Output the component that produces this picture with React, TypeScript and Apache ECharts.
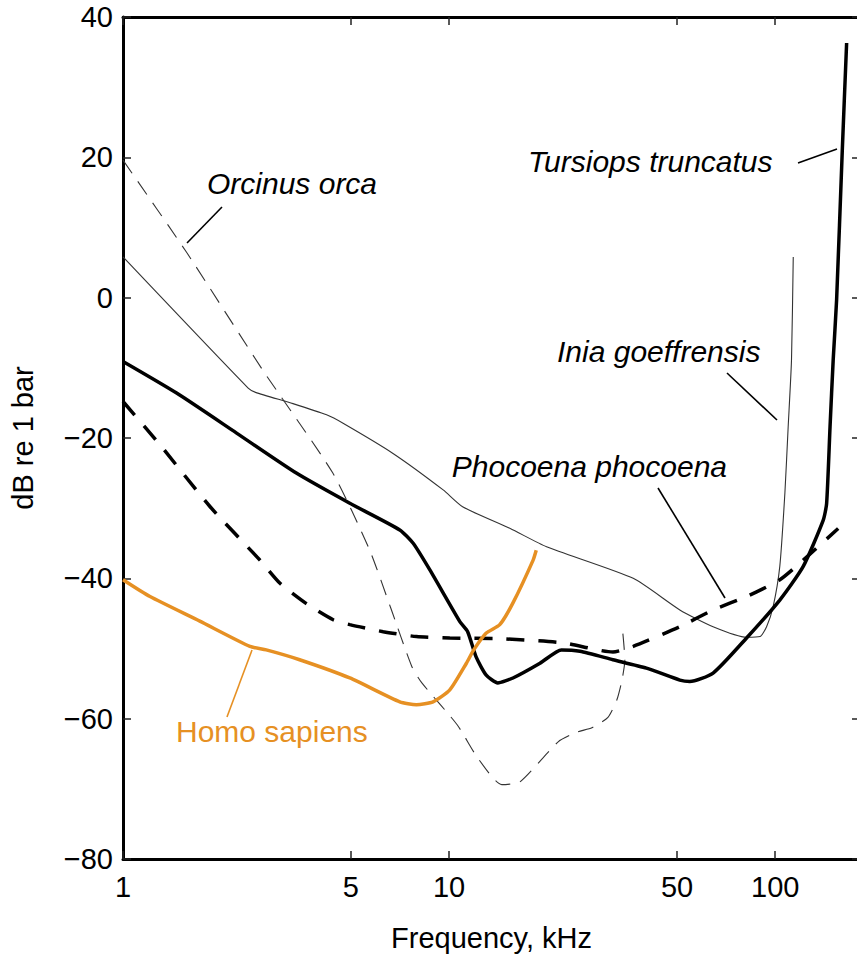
import React, { useEffect, useRef } from "react";
import * as echarts from "echarts";

const FONT = '"Liberation Sans", Arial, Helvetica, sans-serif';
const ORANGE = "#E69023";

// Axis ticks
const xTickValues = [1, 5, 10, 50, 100];
const X_MIN = 1;
const X_MAX = 182;
const Y_MIN = -80;
const Y_MAX = 40;
const Y_STEP = 20;

// Orcinus orca (thin dashed)
const orcaFreq = [1, 1.57, 2.68, 4.4, 5.71, 6.62, 7.69, 8.25, 10.6, 12.2, 14.5, 16.5, 21.6, 24.7, 27.4, 30.7, 32.7, 33.9, 34.6, 34.1];
const orcaDb = [19.6, 6.4, -10.3, -25.0, -36.0, -44.2, -52.6, -54.9, -60.9, -65.5, -69.4, -69.0, -63.3, -61.9, -61.3, -59.8, -57.3, -54.5, -51.6, -47.8];

// Inia goeffrensis (thin solid)
const iniaFreq = [1, 2.42, 2.55, 3.32, 4.21, 4.73, 6.73, 9.59, 11.0, 15.4, 19.9, 36.7, 51.0, 64.5, 81.7, 89.8, 94.1, 98.6, 103.3, 107.1, 109.6, 112.2, 113.6];
const iniaDb = [5.8, -12.9, -13.5, -15.1, -16.7, -17.9, -22.2, -27.4, -29.8, -32.9, -35.5, -40.0, -44.5, -46.9, -48.4, -48.3, -46.9, -44.0, -38.3, -27.8, -18.4, -8.9, 5.8];

// Tursiops truncatus (thick solid)
const tursiopsFreq = [1, 1.46, 2.23, 3.4, 4.96, 7.06, 7.76, 8.73, 10.8, 11.4, 12.1, 13.0, 14.1, 15.7, 19.0, 22.1, 25.2, 31.8, 40.3, 51.0, 54.7, 64.5, 81.7, 103.3, 121.9, 140.4, 143.8, 147.3, 150.6, 154.3, 160.6, 165.6];
const tursiopsDb = [-9.1, -13.6, -19.3, -25.0, -29.3, -33.1, -35.0, -38.8, -46.2, -47.6, -51.2, -53.8, -54.9, -54.2, -52.1, -50.2, -50.4, -51.6, -52.8, -54.5, -54.7, -53.5, -48.5, -43.1, -38.3, -31.7, -29.3, -18.4, -8.9, -0.3, 21.0, 36.3];

// Phocoena phocoena (thick dashed)
const phocoenaFreq = [1, 1.3, 1.85, 2.63, 3.03, 3.65, 4.41, 4.96, 6.28, 7.94, 10.05, 14.3, 22.4, 31.8, 36.7, 51.0, 64.5, 81.7, 103.3, 121.9, 156.0];
const phocoenaDb = [-14.8, -21.0, -29.8, -37.4, -40.7, -43.6, -45.9, -46.6, -47.6, -48.3, -48.5, -48.6, -49.2, -50.5, -49.7, -46.9, -44.5, -42.6, -40.2, -37.4, -32.9];

// Homo sapiens (orange)
const homoFreq = [1, 1.21, 1.72, 2.45, 2.75, 3.48, 4.96, 7.06, 7.94, 8.93, 10.05, 11.3, 11.9, 13.0, 14.3, 15.7, 18.1, 18.5];
const homoDb = [-40.2, -42.6, -46.1, -49.7, -50.2, -51.6, -54.2, -57.6, -58.0, -57.6, -55.9, -52.1, -50.2, -47.8, -46.6, -43.5, -37.4, -36.0];

const pairs = (xs: number[], ys: number[]) => xs.map((x, i) => [x, ys[i]]);

export default function App() {
  const ref = useRef<HTMLDivElement>(null);

  useEffect(() => {
    if (!ref.current) return;
    const chart = echarts.init(ref.current, null, { renderer: "svg" });
    const logTicks = xTickValues.map((v) => Math.log10(v));
    const tickStyle = { color: "#222", width: 1.5 };
    const axisLineStyle = { color: "#000", width: 3 };
    const labelStyle = { color: "#000", fontSize: 29, fontFamily: FONT };

    const textEl = (text: string, x: number, y: number, color = "#000", italic = true, align = "left") => ({
      type: "text",
      x,
      y,
      silent: true,
      style: {
        text,
        fill: color,
        fontSize: 30,
        fontFamily: FONT,
        fontStyle: italic ? "italic" : "normal",
        align,
        verticalAlign: "middle",
      },
    });
    const lineEl = (x1: number, y1: number, x2: number, y2: number, color = "#000") => ({
      type: "line",
      silent: true,
      shape: { x1, y1, x2, y2 },
      style: { stroke: color, lineWidth: 1.6 },
    });

    chart.setOption({
      animation: false,
      backgroundColor: "#fff",
      grid: { left: 123, right: 10, top: 17, bottom: 97, outerBoundsMode: "none" },
      xAxis: [
        {
          type: "log",
          logBase: 10,
          min: X_MIN,
          max: X_MAX,
          position: "bottom",
          axisLine: { show: true, onZero: false, lineStyle: axisLineStyle },
          axisTick: { show: false },
          axisLabel: { show: false },
          splitLine: { show: false },
          minorTick: { show: false },
          name: "Frequency, kHz",
          nameLocation: "middle",
          nameGap: 64,
          nameTextStyle: labelStyle,
        },
        {
          type: "value",
          min: Math.log10(X_MIN),
          max: Math.log10(X_MAX),
          position: "bottom",
          axisLine: { show: false, onZero: false },
          axisTick: { show: true, inside: true, length: 8, customValues: logTicks, lineStyle: tickStyle },
          axisLabel: {
            show: true,
            customValues: logTicks,
            margin: 13,
            formatter: (v: number) => String(Math.round(Math.pow(10, v))),
            ...labelStyle,
          },
          splitLine: { show: false },
        },
        {
          type: "value",
          min: Math.log10(X_MIN),
          max: Math.log10(X_MAX),
          position: "top",
          axisLine: { show: true, onZero: false, lineStyle: axisLineStyle },
          axisTick: { show: true, inside: true, length: 8, customValues: logTicks, lineStyle: tickStyle },
          axisLabel: { show: false },
          splitLine: { show: false },
        },
      ],
      yAxis: [
        {
          type: "value",
          min: Y_MIN,
          max: Y_MAX,
          interval: Y_STEP,
          position: "left",
          axisLine: { show: true, onZero: false, lineStyle: axisLineStyle },
          axisTick: { show: true, inside: true, length: 8, lineStyle: tickStyle },
          axisLabel: {
            show: true,
            margin: 10,
            formatter: (v: number) => (v < 0 ? "\u2212" + Math.abs(v) : String(v)),
            ...labelStyle,
          },
          splitLine: { show: false },
          name: "dB re 1 bar",
          nameLocation: "middle",
          nameGap: 86,
          nameTextStyle: labelStyle,
        },
        {
          type: "value",
          min: Y_MIN,
          max: Y_MAX,
          interval: Y_STEP,
          position: "right",
          axisLine: { show: true, onZero: false, lineStyle: axisLineStyle },
          axisTick: { show: true, inside: true, length: 8, lineStyle: tickStyle },
          axisLabel: { show: false },
          splitLine: { show: false },
        },
      ],
      series: [
        {
          name: "Orcinus orca",
          type: "line",
          xAxisIndex: 0,
          yAxisIndex: 0,
          data: pairs(orcaFreq, orcaDb),
          smooth: 0.2,
          showSymbol: false,
          lineStyle: { color: "#333", width: 1.1, type: [16, 10] },
          z: 2,
        },
        {
          name: "Inia goeffrensis",
          type: "line",
          xAxisIndex: 0,
          yAxisIndex: 0,
          data: pairs(iniaFreq, iniaDb),
          smooth: 0.2,
          showSymbol: false,
          lineStyle: { color: "#333", width: 1.1 },
          z: 2,
        },
        {
          name: "Phocoena phocoena",
          type: "line",
          xAxisIndex: 0,
          yAxisIndex: 0,
          data: pairs(phocoenaFreq, phocoenaDb),
          smooth: 0.2,
          showSymbol: false,
          lineStyle: { color: "#000", width: 3.5, type: [18, 14] },
          z: 3,
        },
        {
          name: "Tursiops truncatus",
          type: "line",
          xAxisIndex: 0,
          yAxisIndex: 0,
          data: pairs(tursiopsFreq, tursiopsDb),
          smooth: 0.2,
          showSymbol: false,
          lineStyle: { color: "#000", width: 3.5 },
          z: 3,
        },
        {
          name: "Homo sapiens",
          type: "line",
          xAxisIndex: 0,
          yAxisIndex: 0,
          data: pairs(homoFreq, homoDb),
          smooth: 0.2,
          showSymbol: false,
          lineStyle: { color: ORANGE, width: 3.5 },
          z: 4,
        },
      ],
      graphic: [
        textEl("Orcinus orca", 207, 183),
        lineEl(222, 207, 187, 243),
        textEl("Tursiops truncatus", 528, 161),
        lineEl(798, 163, 837, 149),
        textEl("Inia goeffrensis", 557, 351),
        lineEl(727, 373, 777, 420),
        textEl("Phocoena phocoena", 727, 466, "#000", true, "right"),
        lineEl(658, 488, 725, 598),
        textEl("Homo sapiens", 176, 731, ORANGE, false),
        lineEl(252, 650, 227, 717, ORANGE),
      ],
    });
    return () => chart.dispose();
  }, []);

  return (
    <div
      style={{
        position: "fixed",
        left: 0,
        top: 0,
        width: 857,
        height: 956,
        overflow: "hidden",
        background: "#fff",
      }}
    >
      <div ref={ref} style={{ width: 870, height: 956 }} />
    </div>
  );
}
